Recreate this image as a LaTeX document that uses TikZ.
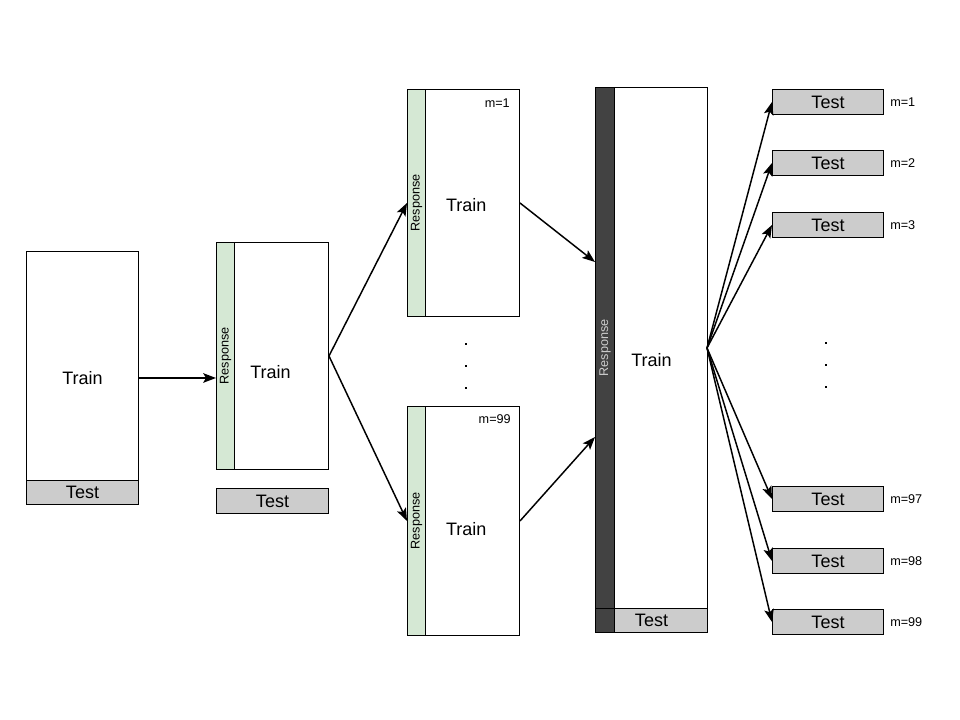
\documentclass[tikz,border=0pt]{standalone}
\usepackage{fontspec}
\setmainfont{Liberation Sans}
\usepackage{graphicx}
\usetikzlibrary{positioning, arrows.meta}

\definecolor{respgreen}{HTML}{D5E8D4}
\definecolor{testgray}{HTML}{CCCCCC}
\definecolor{stripdark}{HTML}{424242}

\begin{document}
\begin{tikzpicture}[
  x=0.025cm, y=-0.025cm,
  sz/.style 2 args={minimum width=#1*0.025cm, minimum height=#2*0.025cm},
  box/.style={draw=black, fill=white, line width=0.7pt, anchor=north west, inner sep=0, font=\fontsize{12.8}{15}\selectfont},
  testbox/.style={box, fill=testgray},
  lbl/.style={inner sep=0, font=\fontsize{12.8}{15}\selectfont},
  strip/.style={draw=black, fill=respgreen, line width=0.7pt, anchor=north west, inner sep=0, font=\fontsize{9}{11}\selectfont},
  darkstrip/.style={strip, fill=stripdark, text=testgray},
  mlab/.style={inner sep=0, font=\fontsize{9}{11}\selectfont},
  flow/.style={-{Stealth[length=3.2mm, width=2.4mm, inset=0.7mm]}, line width=1.05pt},
]
  \useasboundingbox (0,0) rectangle (960,720);

  % --- full data set ---
  \node[box, sz={112}{253}] (train1) at (26,251) {Train};
  \node[testbox, sz={112}{24}] (test1) at (26,480) {Test};

  % --- response split off, test held apart ---
  \node[box, sz={112}{227}, label={[lbl, xshift=-0.05cm, yshift=-0.4cm]center:Train}] (train2) at (216,242) {};
  \node[strip, sz={18}{227}] (resp2) at (216,242) {\rotatebox{90}{Response}};
  \node[testbox, sz={112}{25}] (test2) at (216,488) {Test};
  \draw[flow] (train1.east) -- (train1.east -| resp2.west);

  % --- imputed copies m=1 .. m=99 ---
  \node[box, sz={112}{227}, label={[lbl, xshift=0.07cm, yshift=-0.06cm]center:Train}] (train3) at (407,89) {};
  \node[strip, sz={18}{227}] (resp3) at (407,89) {\rotatebox{90}{Response}};
  \node[mlab, anchor=east] (m3) at (510,103) {m=1};

  \node[box, sz={112}{229}, label={[lbl, xshift=0.07cm, yshift=-0.19cm]center:Train}] (train4) at (407,406) {};
  \node[strip, sz={18}{229}] (resp4) at (407,406) {\rotatebox{90}{Response}};
  \node[mlab, anchor=east] (m4) at (511,419) {m=99};

  \foreach \y in {343,365,387}{ \fill (465,\y) rectangle ++(2.4,2.4); }

  \draw[flow] (train2.east) -- (resp3.west);
  \draw[flow] (train2.east) -- (resp4.west);

  % --- pooled model ---
  \node[box, sz={112}{545}] (trainB) at (595,87) {Train};
  \node[testbox, sz={112}{24}] (testB) at (595,608) {Test};
  \node[darkstrip, sz={19}{521}] (respB) at (595,87) {\rotatebox{90}{Response}};
  \node[darkstrip, sz={19}{24}] (cornerB) at (595,608) {};
  \coordinate (hub) at (707,348);

  \draw[flow] (train3.east) -- (595,262);
  \draw[flow] (train4.east) -- (595,437);

  % --- predictions on test, one per imputation ---
  \foreach \y/\m [count=\i] in {89/1,150/2,212/3,486/97,548/98,609/99}{
    \node[testbox, sz={111}{25}] (out\i) at (772,\y) {Test};
    \node[mlab, right=0.15cm of out\i] (mout\i) {m=\m};
    \draw[flow] (hub) -- (out\i.west);
  }
  \foreach \y in {342,364,386}{ \fill (825,\y) rectangle ++(2.4,2.4); }
\end{tikzpicture}
\end{document}
